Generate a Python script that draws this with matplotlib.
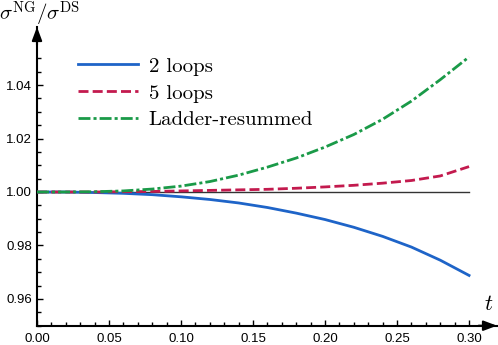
import matplotlib
matplotlib.use("Agg")
import matplotlib.pyplot as plt
from matplotlib.ticker import FixedLocator, FormatStrFormatter

plt.rcParams["mathtext.fontset"] = "cm"
plt.rcParams["font.family"] = ["Liberation Sans", "DejaVu Sans"]

# data
t = [0.00, 0.02, 0.04, 0.06, 0.08, 0.10, 0.12, 0.14,
     0.16, 0.18, 0.20, 0.22, 0.24, 0.26, 0.28, 0.30]
two_loops = [1.0000, 1.0000, 0.9998, 0.9995, 0.9990, 0.9982, 0.9972, 0.9959,
             0.9942, 0.9921, 0.9897, 0.9868, 0.9834, 0.9794, 0.9745, 0.9688]
five_loops = [1.0000, 1.0000, 1.0000, 1.0001, 1.0002, 1.0004, 1.0006, 1.0008,
              1.0010, 1.0014, 1.0019, 1.0025, 1.0033, 1.0043, 1.0060, 1.0095]
ladder = [1.0000, 1.0000, 1.0001, 1.0004, 1.0011, 1.0022, 1.0039, 1.0063,
          1.0093, 1.0127, 1.0168, 1.0215, 1.0272, 1.0340, 1.0420, 1.0505]

labels = ["2 loops", "5 loops", "Ladder-resummed"]
xticks = [0.00, 0.05, 0.10, 0.15, 0.20, 0.25, 0.30]
yticks = [0.96, 0.98, 1.00, 1.02, 1.04]

W, H = 498, 345
fig = plt.figure(figsize=(W / 100, H / 100), dpi=100)
ax = fig.add_axes([37 / W, 19.3 / H, (497 - 37) / W, (325.7 - 27) / H])

ax.plot([t[0], t[-1]], [1, 1], color="#333333", lw=1.0, zorder=1)
ax.plot(t, two_loops, color="#1e64c8", lw=2.0, label=labels[0], zorder=3)
ax.plot(t, five_loops, color="#c31a4e", lw=2.0, dashes=(3.6, 1.5),
        label=labels[1], zorder=3)
ax.plot(t, ladder, color="#1a9a48", lw=2.0, dashes=(4.3, 1.1, 1.1, 1.1),
        label=labels[2], zorder=3)

ax.set_xlim(0, 0.3194)
ax.set_ylim(0.95, 1.0617)

for s in ["top", "right"]:
    ax.spines[s].set_visible(False)
for s in ["left", "bottom"]:
    ax.spines[s].set_linewidth(1.5)

ax.xaxis.set_major_locator(FixedLocator(xticks))
ax.xaxis.set_minor_locator(FixedLocator([i / 100 for i in range(31) if i % 5]))
ax.yaxis.set_major_locator(FixedLocator(yticks))
ax.yaxis.set_minor_locator(
    FixedLocator([0.95 + i * 0.005 for i in range(21) if i % 4 != 2]))
ax.xaxis.set_major_formatter(FormatStrFormatter("%.2f"))
ax.yaxis.set_major_formatter(FormatStrFormatter("%.2f"))

ax.tick_params(which="both", direction="in", width=1.0,
               labelsize=9.5, top=False, right=False)
ax.tick_params(which="major", length=4)
ax.tick_params(which="minor", length=3)
ax.tick_params(axis="x", pad=5.5)
ax.tick_params(axis="y", pad=3.5)

# axis arrows
ax.annotate("", xy=(1, 0), xytext=(0.96, 0), xycoords="axes fraction",
            arrowprops=dict(arrowstyle="-|>,head_length=0.8,head_width=0.3",
                            color="k", lw=1.5, shrinkA=0, shrinkB=0))
ax.annotate("", xy=(0, 1), xytext=(0, 0.94), xycoords="axes fraction",
            arrowprops=dict(arrowstyle="-|>,head_length=0.8,head_width=0.3",
                            color="k", lw=1.5, shrinkA=0, shrinkB=0))

fig.text(40 / W, 1 - 14 / H, r"$\sigma^{\rm NG}/\sigma^{\rm DS}$",
         ha="center", va="center", fontsize=15)
fig.text(489 / W, 1 - 305 / H, r"$t$", ha="center", va="center", fontsize=16)

leg = ax.legend(loc="upper left", bbox_to_anchor=(78 / W, 1 - 57 / H),
                bbox_transform=fig.transFigure, frameon=False,
                prop={"family": "cmr10", "size": 15},
                handlelength=2.9, handletextpad=0.5, labelspacing=0.4,
                borderpad=0, borderaxespad=0)

fig.savefig("out.png", dpi=100)
